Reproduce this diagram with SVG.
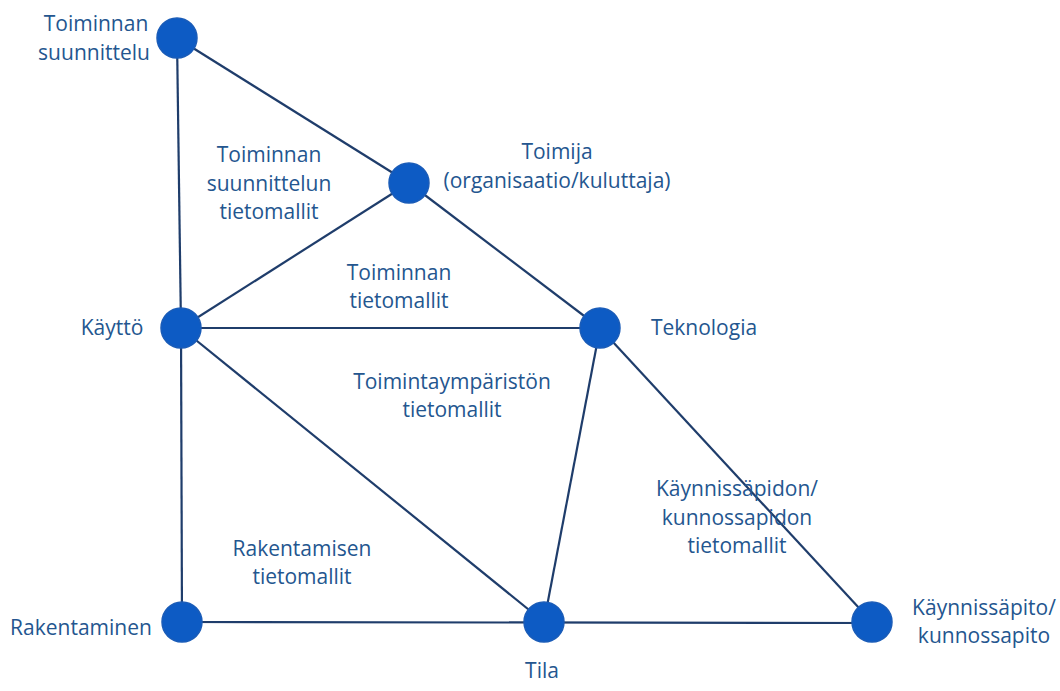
<svg xmlns="http://www.w3.org/2000/svg" width="1060" height="691" viewBox="0 0 1060 691">
<style>
.node{fill:#0d5bc4;stroke:#1a5cb8;stroke-width:1.5}
.lbl{font-family:"Open Sans","Noto Sans",sans-serif;font-size:21px;fill:#24568f;text-anchor:middle}
.edge{stroke:#1f3d6b;stroke-width:2.2;fill:none}
</style>
<rect width="1060" height="691" fill="#ffffff"/>
<g id="connectors">
<line class="edge" x1="177" y1="38" x2="181" y2="328"/>
<line class="edge" x1="177" y1="38" x2="409" y2="183"/>
<line class="edge" x1="409" y1="183" x2="181" y2="328"/>
<line class="edge" x1="409" y1="183" x2="600" y2="328"/>
<line class="edge" x1="181" y1="328" x2="600" y2="328"/>
<line class="edge" x1="181" y1="328" x2="182" y2="622"/>
<line class="edge" x1="181" y1="328" x2="544" y2="622"/>
<line class="edge" x1="600" y1="328" x2="544" y2="622"/>
<line class="edge" x1="600" y1="328" x2="872" y2="622"/>
<line class="edge" x1="182" y1="622" x2="872" y2="623"/>
</g>
<g id="toiminnan-suunnittelu">
<circle class="node" cx="177" cy="38" r="20"/>
<text class="lbl" x="96" y="31">Toiminnan</text>
<text class="lbl" x="94" y="60">suunnittelu</text>
</g>
<g id="toimija">
<circle class="node" cx="409" cy="183" r="20"/>
<text class="lbl" x="557" y="159">Toimija</text>
<text class="lbl" x="557" y="188">(organisaatio/kuluttaja)</text>
</g>
<g id="kaytto">
<circle class="node" cx="181" cy="328" r="20"/>
<text class="lbl" x="112" y="335">Käyttö</text>
</g>
<g id="teknologia">
<circle class="node" cx="600" cy="328" r="20"/>
<text class="lbl" x="704" y="335">Teknologia</text>
</g>
<g id="rakentaminen">
<circle class="node" cx="182" cy="622" r="20"/>
<text class="lbl" x="81" y="635">Rakentaminen</text>
</g>
<g id="tila">
<circle class="node" cx="544" cy="622" r="20"/>
<text class="lbl" x="542" y="678">Tila</text>
</g>
<g id="kaynnissapito">
<circle class="node" cx="872" cy="622" r="20"/>
<text class="lbl" x="984" y="615">Käynnissäpito/</text>
<text class="lbl" x="984" y="643">kunnossapito</text>
</g>
<g id="region-labels">
<text class="lbl" x="269" y="162">Toiminnan</text>
<text class="lbl" x="269" y="191">suunnittelun</text>
<text class="lbl" x="269" y="219">tietomallit</text>
<text class="lbl" x="399" y="280">Toiminnan</text>
<text class="lbl" x="399" y="308">tietomallit</text>
<text class="lbl" x="452" y="389">Toimintaympäristön</text>
<text class="lbl" x="452" y="417">tietomallit</text>
<text class="lbl" x="302" y="556">Rakentamisen</text>
<text class="lbl" x="302" y="584">tietomallit</text>
<text class="lbl" x="737" y="496">Käynnissäpidon/</text>
<text class="lbl" x="737" y="525">kunnossapidon</text>
<text class="lbl" x="737" y="553">tietomallit</text>
</g>
</svg>
